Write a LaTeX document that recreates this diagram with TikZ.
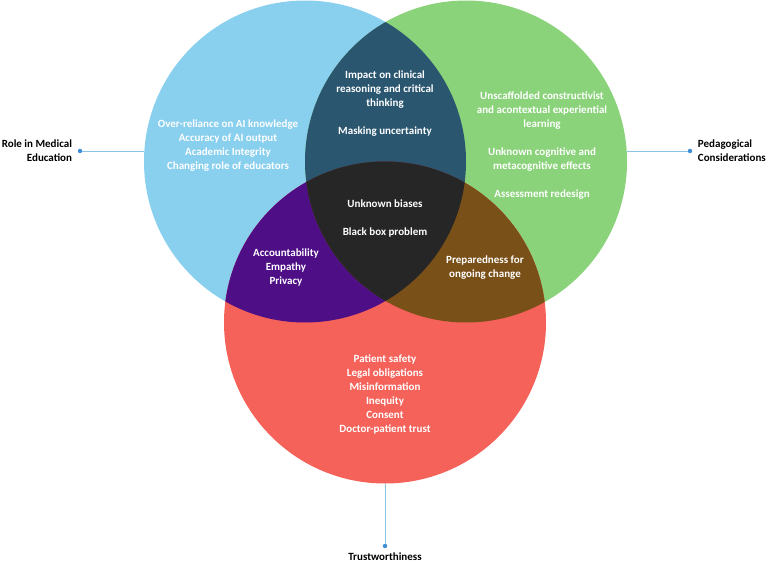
\documentclass[tikz,border=0pt]{standalone}
\usepackage{fontspec}
\setmainfont{Carlito}
\usetikzlibrary{positioning}

\definecolor{skyblue}{HTML}{89CFEE}
\definecolor{leafgreen}{HTML}{8AD37A}
\definecolor{coral}{HTML}{F4625A}
\definecolor{navy}{HTML}{2A5670}
\definecolor{plum}{HTML}{4E0E86}
\definecolor{umber}{HTML}{7A5019}
\definecolor{ink}{HTML}{262626}
\definecolor{linkblue}{HTML}{8CC4E6}
\definecolor{dotblue}{HTML}{3F8FD8}

\begin{document}
\begin{tikzpicture}[x=1pt,y=-1pt,
   venn/.style={circle, minimum size=322pt, inner sep=0pt},
   txt/.style={text=white, align=center, font=\bfseries\fontsize{11}{14}\selectfont},
   lbl/.style={text=black, font=\bfseries\fontsize{11}{14}\selectfont},
   dot/.style={circle, fill=dotblue, inner sep=0pt, minimum size=4.5pt},
   link/.style={draw=linkblue, line width=0.9pt}]
   \useasboundingbox (0,0) rectangle (768,564);

   % the three sets
   \node[venn, fill=skyblue] (role) at (305,161.5) {};
   \node[venn, fill=leafgreen] (peda) at (466,161.5) {};
   \node[venn, fill=coral] (trust) at (385,322.5) {};

   % overlaps
   \begin{scope}
   \clip (305,161.5) circle[radius=161pt];
   \fill[navy] (466,161.5) circle[radius=161pt];
   \fill[plum] (385,322.5) circle[radius=161pt];
   \end{scope}
   \begin{scope}
   \clip (466,161.5) circle[radius=161pt];
   \fill[umber] (385,322.5) circle[radius=161pt];
   \end{scope}
   \begin{scope}
   \clip (305,161.5) circle[radius=161pt];
   \clip (466,161.5) circle[radius=161pt];
   \fill[ink] (385,322.5) circle[radius=161pt];
   \end{scope}

   % texts inside
   \node[txt] (t1) at (228,146) {Over-reliance on AI knowledge\\Accuracy of AI output\\Academic Integrity\\Changing role of educators};
   \node[txt] (t2) at (385,104) {Impact on clinical\\reasoning and critical\\thinking\\[14pt]Masking uncertainty};
   \node[txt] (t3) at (542,146) {Unscaffolded constructivist\\and acontextual experiential\\learning\\[14pt]Unknown cognitive and\\metacognitive effects\\[14pt]Assessment redesign};
   \node[txt] (t4) at (385,219) {Unknown biases\\[14pt]Black box problem};
   \node[txt] (t5) at (286,268) {Accountability\\Empathy\\Privacy};
   \node[txt] (t6) at (485,268) {Preparedness for\\ongoing change};
   \node[txt] (t7) at (385,394) {Patient safety\\Legal obligations\\Misinformation\\Inequity\\Consent\\Doctor-patient trust};

   % set labels
   \node[dot] (rdot) at (80,151) {};
   \node[dot] (pdot) at (690,151) {};
   \node[dot] (tdot) at (385,546) {};
   \node[lbl, align=right, left=2pt of rdot] (rolelbl) {Role in Medical\\Education};
   \node[lbl, align=left, right=2pt of pdot] (pedalbl) {Pedagogical\\Considerations};
   \node[lbl, below=1pt of tdot] (trustlbl) {Trustworthiness};

   \draw[link] (role.west |- rdot) -- (rdot);
   \draw[link] (peda.east |- pdot) -- (pdot);
   \draw[link] (trust.south) -- (tdot);

\end{tikzpicture}
\end{document}
